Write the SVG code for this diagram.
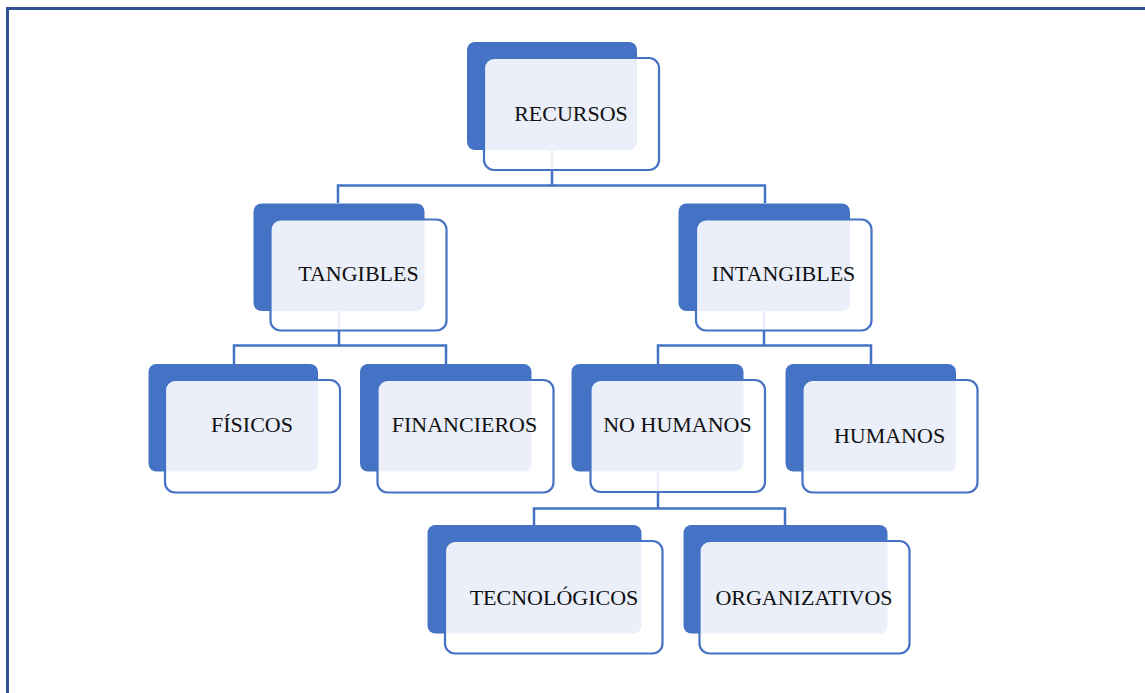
<svg xmlns="http://www.w3.org/2000/svg" width="1145" height="693" viewBox="0 0 1145 693">
  <style>
    .back { fill: #4472C4; }
    .front { fill: #FFFFFF; fill-opacity: 0.89; stroke: #4472C4; stroke-width: 2.2; }
    .lbl { font-family: "Liberation Serif", "Times New Roman", serif; font-size: 22px; fill: #111111; text-anchor: middle; }
    .conn { fill: none; stroke: #4472C4; stroke-width: 2.5; }
  </style>
  <rect x="0" y="0" width="1145" height="693" fill="#FFFFFF"/>
  <path d="M7.5,693 V8.5 H1145" fill="none" stroke="#2F5597" stroke-width="3"/>

  <g id="connectors">
    <path class="conn" d="M552,150 V185.5 M338,203 V185.5 H765 V203"/>
    <path class="conn" d="M339,311 V345.5 M234,364 V345.5 H446 V364"/>
    <path class="conn" d="M764,311 V345.5 M658,364 V345.5 H871 V364"/>
    <path class="conn" d="M658,472 V508.5 M534,525 V508.5 H785 V525"/>
  </g>

  <g id="recursos">
    <rect class="back" x="467" y="42" width="170" height="108" rx="8"/>
    <rect class="front" x="484" y="58" width="175" height="112" rx="10"/>
    <text class="lbl" x="571" y="121">RECURSOS</text>
  </g>

  <g id="tangibles">
    <rect class="back" x="253.5" y="203.5" width="171" height="107.5" rx="8"/>
    <rect class="front" x="270.5" y="219.5" width="176" height="111" rx="10"/>
    <text class="lbl" x="358.5" y="281">TANGIBLES</text>
  </g>

  <g id="intangibles">
    <rect class="back" x="678.5" y="203.5" width="171.5" height="107.5" rx="8"/>
    <rect class="front" x="696" y="219.5" width="175.5" height="111" rx="10"/>
    <text class="lbl" x="783.5" y="281">INTANGIBLES</text>
  </g>

  <g id="fisicos">
    <rect class="back" x="148.5" y="364" width="169.5" height="107.5" rx="8"/>
    <rect class="front" x="165" y="380" width="175" height="112.5" rx="10"/>
    <text class="lbl" x="252" y="431.5">FÍSICOS</text>
  </g>

  <g id="financieros">
    <rect class="back" x="360" y="364" width="171.5" height="107.5" rx="8"/>
    <rect class="front" x="377.5" y="380" width="176" height="112.5" rx="10"/>
    <text class="lbl" x="464.5" y="431.5">FINANCIEROS</text>
  </g>

  <g id="no-humanos">
    <rect class="back" x="571.5" y="364" width="172" height="107.5" rx="8"/>
    <rect class="front" x="590.5" y="380" width="174.5" height="112" rx="10"/>
    <text class="lbl" x="677.5" y="431.5">NO HUMANOS</text>
  </g>

  <g id="humanos">
    <rect class="back" x="785.5" y="364" width="170.5" height="107.5" rx="8"/>
    <rect class="front" x="802.5" y="380" width="175" height="112.5" rx="10"/>
    <text class="lbl" x="889.5" y="442.5">HUMANOS</text>
  </g>

  <g id="tecnologicos">
    <rect class="back" x="427.5" y="525" width="214" height="108.5" rx="8"/>
    <rect class="front" x="445" y="541" width="217.5" height="112.5" rx="10"/>
    <text class="lbl" x="554" y="605">TECNOLÓGICOS</text>
  </g>

  <g id="organizativos">
    <rect class="back" x="683.5" y="525" width="204" height="108.5" rx="8"/>
    <rect class="front" x="699.5" y="541" width="210" height="112.5" rx="10"/>
    <text class="lbl" x="804" y="605">ORGANIZATIVOS</text>
  </g>
</svg>
